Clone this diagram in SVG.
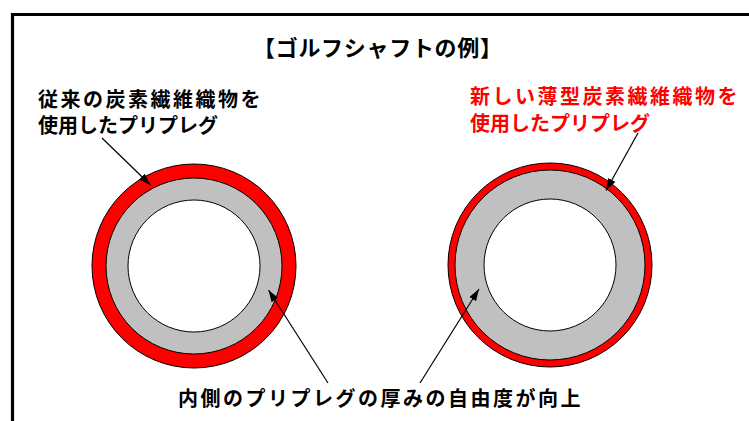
<svg xmlns="http://www.w3.org/2000/svg" width="749" height="421" viewBox="0 0 749 421">
<style>
.t{font-family:"Noto Sans CJK JP","Noto Sans CJK SC",sans-serif;font-weight:bold;font-size:20px;fill:#000}
.red{fill:#FF0000}
.ring{stroke:#000;stroke-width:1}
.conn{stroke:#000;stroke-width:1.2;fill:none;marker-end:url(#ah)}
</style>
<defs>
<marker id="ah" markerUnits="userSpaceOnUse" markerWidth="13" markerHeight="9" refX="12" refY="4" orient="auto">
<path d="M0,0 L12,4 L0,8 z" fill="#000"/>
</marker>
</defs>
<rect width="749" height="421" fill="#fff"/>
<polyline points="12.5,421 12.5,14.5 749,14.5" fill="none" stroke="#000" stroke-width="3.2"/>
<text class="t" x="253" y="56" style="font-size:22px;letter-spacing:0.7px">【ゴルフシャフトの例】</text>
<g id="left-shaft">
<circle class="ring" cx="194" cy="266" r="102" fill="#FF0000"/>
<circle class="ring" cx="194" cy="266" r="88" fill="#C0C0C0"/>
<circle class="ring" cx="194" cy="266" r="66" fill="#FFFFFF"/>
</g>
<g id="right-shaft">
<circle class="ring" cx="550" cy="265" r="102" fill="#FF0000"/>
<circle class="ring" cx="550" cy="265" r="95" fill="#C0C0C0"/>
<circle class="ring" cx="550" cy="265" r="66" fill="#FFFFFF"/>
</g>
<g id="left-label">
<text class="t" x="38" y="106.5" style="letter-spacing:2.5px">従来の炭素繊維織物を</text>
<text class="t" x="38" y="133">使用したプリプレグ</text>
</g>
<g id="right-label">
<text class="t red" x="470" y="103.5" style="letter-spacing:2.5px">新しい薄型炭素繊維織物を</text>
<text class="t red" x="470" y="131">使用したプリプレグ</text>
</g>
<g id="bottom-label">
<text class="t" x="178" y="406" style="letter-spacing:2.5px">内側のプリプレグの厚みの自由度が向上</text>
</g>
<g id="connectors">
<line class="conn" x1="102" y1="138" x2="150.5" y2="185"/>
<line class="conn" x1="328" y1="383" x2="268.5" y2="290"/>
<line class="conn" x1="638" y1="133" x2="606" y2="190.5"/>
<line class="conn" x1="420" y1="383" x2="479" y2="289"/>
</g>
</svg>
